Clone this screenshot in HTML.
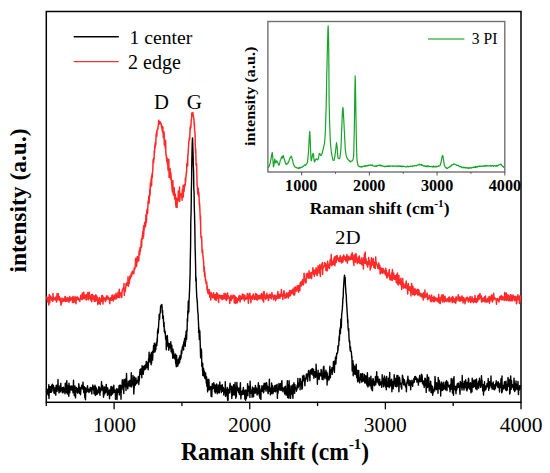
<!DOCTYPE html>
<html><head><meta charset="utf-8"><style>
html,body{margin:0;padding:0;background:#fff;}
svg{display:block;}
text{font-family:"Liberation Serif", serif;fill:#000;}
</style></head><body>
<svg width="550" height="473" viewBox="0 0 550 473">
<rect width="550" height="473" fill="#fff"/>
<rect x="46.3" y="11.5" width="474.7" height="390.8" fill="none" stroke="#000" stroke-width="1.5"/>
<line x1="114.11" y1="402.3" x2="114.11" y2="409.3" stroke="#000" stroke-width="1.3"/>
<line x1="249.74" y1="402.3" x2="249.74" y2="409.3" stroke="#000" stroke-width="1.3"/>
<line x1="385.37" y1="402.3" x2="385.37" y2="409.3" stroke="#000" stroke-width="1.3"/>
<line x1="521.00" y1="402.3" x2="521.00" y2="409.3" stroke="#000" stroke-width="1.3"/>
<line x1="46.30" y1="402.3" x2="46.30" y2="406" stroke="#000" stroke-width="1.3"/>
<line x1="181.93" y1="402.3" x2="181.93" y2="406" stroke="#000" stroke-width="1.3"/>
<line x1="317.56" y1="402.3" x2="317.56" y2="406" stroke="#000" stroke-width="1.3"/>
<line x1="453.19" y1="402.3" x2="453.19" y2="406" stroke="#000" stroke-width="1.3"/>
<text transform="translate(92.98,432.40) scale(1.0750,1.0250)" font-size="20" font-weight="normal">1000</text>
<text transform="translate(228.11,432.40) scale(1.0750,1.0250)" font-size="20" font-weight="normal">2000</text>
<text transform="translate(363.74,432.40) scale(1.0750,1.0250)" font-size="20" font-weight="normal">3000</text>
<text transform="translate(499.63,432.40) scale(1.0750,1.0250)" font-size="20" font-weight="normal">4000</text>
<text transform="translate(181.01,459.57) scale(0.9842,1.0263)" font-size="24" font-weight="bold">Raman shift (cm<tspan font-size="15" dy="-10">-1</tspan><tspan dy="10">)</tspan></text>
<text transform="translate(25.89,272.59) rotate(-90) scale(0.9791,0.9931)" font-size="24" font-weight="bold">intensity (a.u.)</text>
<text transform="translate(129.48,44.16) scale(0.9855,0.9704)" font-size="20" font-weight="normal">1 center</text>
<text transform="translate(128.10,68.56) scale(1.0000,1.0222)" font-size="20" font-weight="normal">2 edge</text>
<text transform="translate(153.98,108.90) scale(1.0340,1.0077)" font-size="20" font-weight="normal">D</text>
<text transform="translate(186.81,108.94) scale(1.0538,1.0593)" font-size="20" font-weight="normal">G</text>
<text transform="translate(334.95,244.20) scale(1.0462,0.9887)" font-size="20" font-weight="normal">2D</text>
<line x1="74.2" y1="36.8" x2="118.3" y2="36.8" stroke="#000" stroke-width="1.4" stroke-linecap="round"/>
<line x1="74.2" y1="61.6" x2="118.3" y2="61.6" stroke="#ff3030" stroke-width="1.4" stroke-linecap="round"/>
<polyline fill="none" stroke="#ff2a2a" stroke-width="1.5" stroke-linejoin="round" points="46.5,297.7 46.8,296.9 47.0,298.9 47.3,300.2 47.5,301.7 47.8,299.4 48.0,297.9 48.3,297.6 48.5,300.4 48.8,304.9 49.0,299.8 49.3,294.5 49.5,297.6 49.8,302.7 50.0,299.6 50.3,295.9 50.5,298.7 50.8,296.3 51.0,296.9 51.3,297.7 51.5,297.7 51.8,300.3 52.0,299.7 52.3,298.8 52.5,300.4 52.8,301.3 53.0,293.5 53.3,299.1 53.5,297.6 53.8,299.1 54.0,297.7 54.3,299.5 54.5,299.9 54.8,299.4 55.0,297.9 55.3,298.3 55.5,297.7 55.8,297.1 56.0,300.1 56.3,297.9 56.5,302.1 56.8,300.9 57.0,293.7 57.3,299.7 57.5,297.1 57.8,299.4 58.0,299.2 58.3,293.7 58.5,298.5 58.8,297.8 59.0,299.9 59.3,296.5 59.5,300.3 59.8,297.5 60.0,299.4 60.3,298.5 60.5,302.4 60.8,301.1 61.0,305.3 61.3,301.3 61.5,301.3 61.8,302.9 62.0,298.1 62.0,298.7 62.3,301.4 62.5,298.6 62.8,300.0 63.0,299.6 63.3,301.2 63.5,298.9 63.8,299.6 64.0,300.5 64.3,300.2 64.5,298.1 64.8,301.1 65.0,296.5 65.3,296.7 65.5,296.9 65.8,301.5 66.0,299.6 66.3,299.1 66.5,298.7 66.8,301.2 67.0,298.2 67.3,297.9 67.5,301.1 67.8,297.5 68.0,298.9 68.3,300.2 68.5,299.0 68.8,299.5 69.0,302.2 69.3,299.1 69.5,297.3 69.8,296.4 70.0,299.6 70.3,299.4 70.5,300.5 70.8,298.9 71.0,298.8 71.3,298.1 71.5,298.1 71.8,299.2 72.0,297.5 72.3,299.5 72.5,302.5 72.8,300.1 73.0,296.4 73.3,302.6 73.5,300.1 73.8,298.2 74.0,302.0 74.3,300.6 74.5,299.0 74.8,299.3 75.0,296.4 75.0,300.4 75.3,302.2 75.5,300.0 75.8,301.2 76.0,303.7 76.3,297.4 76.5,300.0 76.8,298.7 77.0,296.9 77.3,297.0 77.5,298.7 77.8,299.3 78.0,297.4 78.3,298.5 78.5,299.5 78.8,298.9 79.0,300.0 79.3,299.5 79.5,299.3 79.8,301.4 80.0,299.0 80.3,298.1 80.5,298.4 80.8,295.3 81.0,296.5 81.3,298.8 81.5,297.6 81.8,299.6 82.0,296.1 82.3,293.1 82.5,299.0 82.8,297.3 83.0,293.6 83.3,298.5 83.5,295.7 83.8,292.2 84.0,295.2 84.0,294.8 84.3,298.8 84.5,294.4 84.8,296.1 85.0,296.1 85.3,296.2 85.5,295.5 85.8,298.0 86.0,299.6 86.3,300.0 86.5,295.6 86.8,294.5 87.0,296.4 87.3,294.2 87.5,294.5 87.8,292.4 88.0,299.3 88.3,299.8 88.5,294.3 88.8,297.7 89.0,298.8 89.3,292.2 89.5,295.8 89.8,296.2 90.0,298.2 90.0,296.0 90.3,295.9 90.5,296.4 90.8,300.1 91.0,300.5 91.3,295.6 91.5,294.8 91.8,301.8 92.0,295.0 92.3,294.4 92.5,296.6 92.8,297.8 93.0,298.9 93.3,297.8 93.5,295.7 93.8,299.0 94.0,298.6 94.3,301.3 94.5,298.0 94.8,295.9 95.0,296.4 95.3,301.3 95.5,297.8 95.8,294.8 96.0,297.7 96.0,298.0 96.3,299.9 96.5,295.8 96.8,300.6 97.0,299.0 97.3,297.2 97.5,298.2 97.8,304.4 98.0,302.1 98.3,300.8 98.5,299.5 98.8,303.5 99.0,298.7 99.3,298.9 99.5,297.5 99.8,299.5 100.0,299.6 100.3,304.5 100.5,299.1 100.8,301.5 101.0,301.6 101.3,299.0 101.5,301.3 101.8,295.6 102.0,300.1 102.3,301.4 102.5,295.5 102.8,297.6 103.0,303.9 103.3,299.2 103.5,297.2 103.8,298.3 104.0,298.0 104.3,300.1 104.5,299.8 104.8,298.6 105.0,297.9 105.3,299.0 105.5,301.6 105.8,299.5 106.0,299.7 106.3,298.4 106.5,296.0 106.8,296.8 107.0,299.4 107.3,298.9 107.5,296.8 107.8,295.9 108.0,298.7 108.0,298.1 108.3,297.6 108.5,297.7 108.8,298.7 109.0,299.4 109.3,300.1 109.5,299.9 109.8,303.8 110.0,300.0 110.3,297.7 110.5,298.5 110.8,299.4 111.0,297.8 111.3,299.3 111.5,300.3 111.8,296.7 112.0,295.2 112.3,300.1 112.5,298.4 112.8,299.3 113.0,295.1 113.3,301.0 113.5,299.6 113.8,297.3 114.0,297.0 114.3,298.1 114.5,296.5 114.7,295.9 114.8,295.0 115.0,299.1 115.3,297.0 115.5,298.3 115.8,298.3 116.0,293.2 116.3,298.7 116.5,296.3 116.8,296.1 117.0,296.8 117.3,294.6 117.5,297.6 117.8,294.8 118.0,292.2 118.3,292.3 118.5,296.2 118.8,297.3 119.0,294.6 119.3,289.3 119.3,297.1 119.5,293.6 119.8,297.7 120.0,295.2 120.3,293.3 120.5,292.9 120.8,294.4 121.0,295.0 121.3,293.1 121.5,295.0 121.8,297.4 122.0,292.1 122.3,289.9 122.5,289.5 122.8,288.7 123.0,289.6 123.3,289.2 123.5,287.4 123.8,290.2 124.0,283.6 124.0,286.0 124.3,295.6 124.5,290.3 124.8,289.5 125.0,288.8 125.3,291.4 125.5,288.4 125.8,287.3 126.0,283.8 126.3,285.4 126.5,283.7 126.8,283.2 127.0,282.6 127.3,283.8 127.5,283.0 127.8,285.4 128.0,276.7 128.3,282.3 128.5,286.2 128.6,282.3 128.8,284.4 129.0,283.6 129.3,283.2 129.5,281.9 129.8,276.3 130.0,278.6 130.3,278.7 130.5,275.8 130.8,277.5 131.0,275.3 131.3,273.2 131.5,276.1 131.8,275.4 132.0,273.1 132.3,271.7 132.5,271.1 132.8,271.8 133.0,272.2 133.3,272.7 133.3,271.5 133.5,273.6 133.8,273.8 134.0,270.7 134.3,267.7 134.5,267.5 134.8,269.4 135.0,267.2 135.3,267.0 135.5,259.5 135.8,258.3 136.0,265.5 136.3,264.4 136.5,266.6 136.7,264.1 136.8,262.5 137.0,260.8 137.3,256.4 137.5,262.0 137.8,257.1 138.0,258.9 138.3,257.6 138.5,257.0 138.8,260.7 139.0,252.7 139.1,252.9 139.3,250.4 139.5,249.7 139.8,254.7 140.0,247.5 140.3,251.1 140.5,249.0 140.8,247.9 141.0,246.8 141.3,239.6 141.4,243.6 141.6,246.9 141.8,238.6 142.1,239.4 142.3,235.6 142.6,237.4 142.8,231.4 143.1,238.3 143.3,230.7 143.6,225.9 143.7,235.7 143.8,232.4 144.1,229.5 144.3,227.4 144.6,223.0 144.8,222.3 145.1,224.2 145.3,226.8 145.6,225.7 145.8,218.0 146.0,214.6 146.1,215.0 146.3,222.6 146.6,218.0 146.8,211.0 147.1,209.3 147.3,213.7 147.6,213.1 147.8,209.0 148.1,200.9 148.1,203.6 148.3,202.4 148.6,203.6 148.8,195.9 149.1,203.3 149.3,198.1 149.6,196.3 149.8,189.0 149.8,192.4 150.1,195.1 150.3,182.9 150.6,187.1 150.8,186.1 151.1,179.1 151.3,181.9 151.6,176.2 151.6,185.8 151.8,176.6 152.1,173.8 152.3,177.4 152.6,171.4 152.8,170.2 153.1,160.0 153.3,159.2 153.5,162.7 153.6,162.9 153.8,158.1 154.1,158.9 154.3,150.7 154.6,152.4 154.8,145.5 155.1,148.0 155.1,145.1 155.3,142.5 155.6,142.2 155.8,145.0 156.1,134.8 156.3,133.4 156.6,135.9 156.7,131.5 156.8,136.1 157.1,131.2 157.3,129.4 157.6,128.7 157.8,129.7 158.1,126.3 158.3,125.2 158.6,123.9 158.6,121.0 158.8,120.3 159.1,124.2 159.3,124.0 159.6,122.5 159.8,122.0 159.8,121.8 160.1,122.8 160.3,121.9 160.6,123.7 160.8,122.9 161.1,124.1 161.3,125.6 161.4,124.1 161.6,126.8 161.8,128.2 162.1,128.3 162.3,131.5 162.6,126.4 162.8,127.1 163.1,133.3 163.3,135.1 163.3,137.7 163.6,135.9 163.8,137.9 164.1,132.1 164.3,144.9 164.6,143.7 164.8,140.0 165.1,142.6 165.1,145.8 165.3,148.4 165.6,140.3 165.8,152.6 166.1,155.3 166.3,155.2 166.6,158.9 166.8,161.3 167.1,157.8 167.3,163.7 167.4,161.7 167.6,160.0 167.8,164.7 168.1,170.4 168.3,162.1 168.6,163.4 168.8,159.3 169.1,177.4 169.3,171.0 169.6,172.7 169.8,171.2 169.8,170.8 170.1,168.4 170.3,176.8 170.6,179.1 170.8,172.6 171.1,177.1 171.3,180.0 171.6,183.9 171.8,185.2 172.1,188.9 172.3,191.1 172.6,191.0 172.6,192.2 172.8,180.4 173.1,189.0 173.3,195.1 173.6,193.5 173.8,193.4 174.1,187.6 174.3,189.0 174.6,199.0 174.8,198.5 174.9,196.8 175.1,197.5 175.3,194.1 175.6,201.7 175.8,204.9 176.1,207.2 176.3,201.8 176.3,201.0 176.6,198.0 176.8,205.6 177.1,207.5 177.3,199.5 177.6,201.8 177.8,200.7 178.1,198.2 178.3,191.1 178.6,197.7 178.8,200.1 179.1,193.1 179.3,194.7 179.5,187.1 179.6,201.4 179.8,200.6 180.1,196.6 180.3,195.0 180.6,193.6 180.8,195.7 181.1,195.4 181.3,195.3 181.6,196.1 181.8,196.1 182.1,200.2 182.3,189.7 182.6,194.9 182.8,191.4 183.0,189.5 183.1,185.4 183.3,196.9 183.6,188.4 183.8,188.3 184.1,191.2 184.3,184.4 184.6,187.2 184.8,184.7 185.1,185.3 185.3,184.3 185.3,178.2 185.6,182.2 185.8,177.5 186.1,176.2 186.3,172.5 186.6,173.0 186.8,163.6 187.1,165.6 187.3,166.3 187.6,159.5 187.7,165.5 187.8,155.0 188.1,155.1 188.3,149.8 188.6,145.9 188.8,141.7 189.1,140.8 189.3,139.7 189.3,137.7 189.6,139.4 189.8,137.8 190.1,127.4 190.3,129.7 190.6,125.8 190.6,125.6 190.8,127.7 191.1,123.3 191.3,119.9 191.6,118.2 191.8,113.1 192.1,115.7 192.3,112.9 192.6,113.3 192.8,112.7 192.9,112.5 193.1,115.7 193.3,115.1 193.6,117.5 193.8,118.0 194.1,122.0 194.3,125.6 194.4,123.0 194.6,131.1 194.8,130.9 195.1,134.9 195.3,145.9 195.6,152.7 195.7,148.7 195.8,151.6 196.1,165.4 196.3,163.6 196.6,163.6 196.8,172.8 197.1,185.1 197.3,185.8 197.6,190.1 197.8,194.2 197.8,192.4 198.1,191.2 198.3,188.2 198.6,196.3 198.8,192.3 199.1,197.2 199.3,205.0 199.3,201.7 199.6,203.7 199.8,207.8 200.1,214.8 200.3,220.2 200.5,216.0 200.6,222.8 200.8,234.3 201.1,238.0 201.3,237.1 201.3,238.2 201.6,236.6 201.8,243.3 202.1,252.7 202.3,250.3 202.6,249.9 202.7,252.1 202.8,254.8 203.1,257.6 203.3,259.7 203.6,260.8 203.8,267.0 204.0,271.5 204.1,266.7 204.3,267.4 204.6,276.2 204.8,271.8 205.1,275.7 205.3,278.4 205.5,280.8 205.6,279.2 205.8,279.8 206.1,283.8 206.3,281.7 206.6,281.7 206.8,282.7 207.1,290.1 207.3,286.1 207.6,291.3 207.8,292.6 208.1,293.4 208.2,291.3 208.3,290.5 208.6,291.9 208.8,290.6 209.1,289.4 209.3,294.8 209.6,291.3 209.8,297.2 210.1,296.1 210.3,293.7 210.6,295.4 210.8,300.1 211.1,292.5 211.3,293.9 211.6,293.4 211.8,296.3 212.1,297.0 212.3,296.3 212.6,294.9 212.7,295.5 212.8,298.0 213.1,297.4 213.3,295.8 213.6,292.8 213.8,296.4 214.1,296.2 214.3,296.7 214.6,299.5 214.8,297.9 215.1,294.5 215.3,295.0 215.6,299.0 215.8,297.0 216.1,300.4 216.3,296.2 216.6,292.7 216.8,297.3 217.1,298.2 217.3,296.6 217.6,293.7 217.8,295.2 218.1,295.6 218.2,297.3 218.3,298.9 218.6,302.4 218.8,296.6 219.1,295.1 219.3,296.1 219.6,296.3 219.8,295.6 220.1,296.9 220.3,297.4 220.6,295.4 220.8,298.4 221.1,296.7 221.3,295.6 221.6,297.8 221.8,295.7 222.1,299.7 222.3,296.5 222.6,296.9 222.8,295.4 223.1,296.8 223.3,299.0 223.6,296.2 223.8,298.7 224.1,293.2 224.3,297.5 224.6,298.3 224.8,297.6 225.1,296.5 225.3,298.9 225.6,295.3 225.8,293.6 226.1,298.0 226.3,300.5 226.6,298.8 226.8,297.7 227.1,298.5 227.3,298.8 227.3,296.2 227.6,293.1 227.8,296.9 228.1,295.9 228.3,297.6 228.6,295.9 228.8,296.5 229.1,298.9 229.3,298.3 229.6,298.2 229.8,303.4 230.1,297.4 230.3,297.3 230.6,300.3 230.8,296.0 231.1,295.3 231.3,300.4 231.6,298.5 231.8,298.7 232.1,298.7 232.3,298.7 232.6,296.3 232.8,297.0 233.1,295.1 233.3,297.0 233.6,297.0 233.8,296.0 234.1,298.5 234.3,303.0 234.6,295.8 234.8,301.6 235.1,299.8 235.3,300.1 235.6,297.0 235.8,303.4 236.1,299.7 236.4,298.3 236.4,297.7 236.6,298.2 236.9,299.8 237.1,300.0 237.4,302.8 237.6,298.4 237.9,300.6 238.1,298.6 238.4,300.2 238.6,298.8 238.9,296.9 239.1,295.6 239.4,296.6 239.6,298.5 239.9,300.6 240.1,301.9 240.4,295.9 240.6,297.2 240.9,298.7 241.1,298.6 241.4,298.2 241.6,299.3 241.9,298.0 242.1,296.2 242.4,293.9 242.6,297.0 242.9,294.8 243.1,297.9 243.4,299.0 243.6,294.8 243.9,297.2 244.1,297.0 244.4,301.0 244.6,298.8 244.9,295.2 245.1,299.2 245.4,298.9 245.5,297.2 245.6,297.8 245.9,299.1 246.1,299.2 246.4,299.0 246.6,297.1 246.9,297.6 247.1,296.3 247.4,293.5 247.6,298.5 247.9,296.8 248.1,298.2 248.4,303.3 248.6,299.0 248.9,296.2 249.1,293.9 249.4,295.7 249.6,294.4 249.9,293.2 250.1,298.5 250.4,295.9 250.6,298.1 250.9,302.7 251.1,297.6 251.4,297.2 251.6,297.9 251.9,296.4 252.1,296.0 252.4,297.3 252.6,299.3 252.9,296.5 253.1,294.3 253.4,294.1 253.6,294.8 253.9,297.1 254.1,298.3 254.4,298.5 254.5,299.5 254.6,296.7 254.9,298.4 255.1,297.2 255.4,298.2 255.6,293.6 255.9,299.2 256.1,293.8 256.4,294.9 256.6,298.4 256.9,296.0 257.1,300.2 257.4,297.2 257.6,295.1 257.9,296.7 258.1,295.4 258.4,298.7 258.6,299.0 258.9,297.0 259.1,295.4 259.4,296.9 259.6,298.7 259.9,295.5 260.1,295.5 260.4,298.7 260.6,298.3 260.9,296.5 261.1,295.7 261.4,293.6 261.6,298.8 261.9,296.8 262.1,294.6 262.4,295.1 262.6,295.4 262.9,300.6 263.1,300.0 263.4,292.1 263.6,300.9 263.6,302.1 263.9,294.5 264.1,291.4 264.4,297.7 264.6,295.2 264.9,296.1 265.1,295.1 265.4,298.7 265.6,299.2 265.9,298.0 266.1,296.8 266.4,297.4 266.6,297.4 266.9,293.3 267.1,297.9 267.4,295.3 267.6,297.1 267.9,296.1 268.1,297.4 268.4,300.6 268.6,299.9 268.9,295.3 269.1,294.6 269.4,296.1 269.6,294.6 269.9,297.6 270.1,294.3 270.4,296.3 270.6,297.8 270.9,298.0 271.1,296.0 271.4,298.7 271.6,298.0 271.9,292.6 272.1,296.3 272.4,296.2 272.6,295.0 272.7,294.9 272.9,296.5 273.1,297.1 273.4,297.3 273.6,299.7 273.9,298.9 274.1,296.0 274.4,295.3 274.6,297.6 274.9,295.0 275.1,296.1 275.4,296.9 275.6,300.8 275.9,297.6 276.1,299.5 276.4,296.2 276.6,298.4 276.9,295.6 277.1,297.3 277.4,296.7 277.6,294.8 277.9,291.5 278.1,298.4 278.4,296.9 278.6,296.4 278.9,294.3 279.1,295.0 279.4,296.6 279.6,296.3 279.9,298.3 280.1,296.9 280.4,294.2 280.6,296.5 280.9,293.9 281.1,295.0 281.4,289.5 281.6,294.2 281.8,296.1 281.9,293.6 282.1,295.6 282.4,296.7 282.6,296.3 282.9,299.4 283.1,295.3 283.4,294.6 283.6,294.5 283.9,290.8 284.1,291.5 284.4,295.5 284.6,294.9 284.9,298.1 285.1,295.5 285.4,294.9 285.6,297.3 285.9,295.3 286.1,298.0 286.4,293.1 286.6,296.2 286.9,296.3 287.1,296.0 287.4,296.8 287.6,295.8 287.9,294.0 288.1,292.8 288.4,298.1 288.6,293.9 288.9,295.9 289.1,296.4 289.4,294.5 289.6,290.4 289.9,293.6 290.0,295.6 290.1,293.2 290.4,295.8 290.6,293.1 290.9,292.6 291.1,290.6 291.4,292.0 291.6,293.6 291.9,290.9 292.1,291.1 292.4,289.9 292.6,293.1 292.9,289.1 293.1,290.7 293.4,294.0 293.6,294.8 293.9,291.4 294.1,293.5 294.4,287.4 294.6,294.9 294.9,292.9 295.1,288.3 295.4,286.9 295.6,289.3 295.9,290.7 296.1,290.5 296.4,290.2 296.6,291.1 296.9,290.8 297.1,286.0 297.4,287.5 297.6,286.5 297.9,289.4 298.1,285.6 298.2,289.3 298.4,287.5 298.6,292.2 298.9,287.1 299.1,287.0 299.4,285.5 299.6,285.7 299.9,290.5 300.1,283.6 300.4,282.8 300.6,284.3 300.9,285.9 301.1,281.8 301.4,285.7 301.6,285.0 301.9,282.4 302.1,281.5 302.4,280.6 302.6,281.2 302.9,279.5 303.1,284.5 303.4,284.9 303.6,279.9 303.9,280.2 304.1,273.3 304.4,278.4 304.6,280.6 304.9,280.6 305.1,280.2 305.4,282.9 305.6,280.2 305.9,278.7 306.1,282.7 306.4,273.7 306.4,274.4 306.6,275.4 306.9,275.1 307.1,274.8 307.4,276.4 307.6,273.3 307.9,276.5 308.1,278.2 308.4,276.7 308.6,277.1 308.9,274.6 309.1,270.8 309.4,275.3 309.6,278.1 309.9,276.5 310.1,277.1 310.4,276.5 310.6,277.5 310.9,272.4 311.1,276.6 311.4,277.9 311.6,278.6 311.9,274.0 312.1,273.9 312.4,271.8 312.6,272.6 312.9,267.7 313.1,270.7 313.4,272.3 313.6,274.5 313.9,270.2 314.1,272.5 314.4,276.2 314.5,270.2 314.6,273.9 314.9,270.8 315.1,271.9 315.4,273.1 315.6,273.8 315.9,269.6 316.1,267.7 316.4,274.1 316.6,270.8 316.9,272.2 317.1,275.6 317.4,274.5 317.6,269.1 317.9,269.0 318.1,265.8 318.4,269.5 318.6,267.6 318.9,268.7 319.1,273.0 319.4,269.4 319.6,267.8 319.9,264.5 320.1,271.8 320.4,276.6 320.6,266.0 320.9,269.3 321.1,267.2 321.4,267.9 321.6,267.0 321.9,263.7 322.1,266.1 322.4,262.4 322.6,274.5 322.7,272.9 322.9,267.1 323.1,268.1 323.4,267.4 323.6,267.0 323.9,267.0 324.1,265.8 324.4,265.7 324.6,262.8 324.9,264.1 325.1,264.6 325.4,266.7 325.6,263.3 325.9,270.5 326.1,264.8 326.4,265.2 326.6,267.1 326.9,268.7 327.1,270.9 327.4,267.7 327.6,261.2 327.9,264.0 328.1,267.0 328.4,265.1 328.6,266.7 328.9,264.4 329.1,268.6 329.4,268.1 329.6,267.0 329.9,264.3 330.1,259.8 330.4,260.5 330.6,264.4 330.9,264.5 331.2,254.4 331.4,261.6 331.7,265.8 331.9,265.6 332.2,262.0 332.4,264.6 332.7,262.3 332.9,261.0 333.2,264.4 333.4,264.1 333.7,260.2 333.9,259.0 334.2,257.9 334.4,257.1 334.7,264.7 334.9,265.7 335.2,261.1 335.4,263.2 335.7,256.3 335.9,259.8 336.2,262.4 336.4,260.7 336.7,260.1 336.9,255.4 337.2,255.7 337.4,258.5 337.7,257.8 337.9,259.4 338.2,258.3 338.4,259.7 338.7,260.5 338.9,261.4 339.1,259.9 339.2,257.7 339.4,258.3 339.7,261.4 339.9,258.5 340.2,255.8 340.4,255.9 340.7,259.3 340.9,260.3 341.2,262.5 341.4,258.3 341.7,262.9 341.9,258.2 342.2,258.6 342.4,257.0 342.7,260.5 342.9,262.1 343.2,259.1 343.4,257.3 343.7,255.1 343.9,259.7 344.2,258.4 344.4,258.4 344.7,257.5 344.9,256.6 345.2,257.9 345.4,259.6 345.7,261.1 345.9,258.1 346.2,258.9 346.4,257.2 346.7,257.7 346.9,254.5 347.2,261.1 347.3,260.5 347.4,263.1 347.7,257.4 347.9,259.6 348.2,256.2 348.4,258.8 348.7,257.8 348.9,259.9 349.2,257.6 349.4,259.7 349.7,257.1 349.9,259.7 350.2,257.4 350.4,257.4 350.7,258.7 350.9,259.6 351.2,254.7 351.4,254.2 351.7,258.9 351.9,258.4 352.2,252.7 352.4,254.1 352.7,257.1 352.9,259.9 353.2,259.7 353.4,262.1 353.7,262.3 353.9,265.5 354.2,255.1 354.4,258.3 354.7,261.2 354.9,255.2 355.2,254.7 355.4,259.2 355.5,262.0 355.7,262.2 355.9,253.6 356.2,254.8 356.4,257.5 356.7,256.6 356.9,259.2 357.2,259.2 357.4,263.6 357.7,259.3 357.9,259.5 358.2,259.5 358.4,262.3 358.7,256.9 358.9,262.2 359.2,257.6 359.4,256.1 359.7,263.2 359.9,261.0 360.2,263.7 360.4,261.4 360.7,261.8 360.9,260.8 361.2,261.7 361.4,258.8 361.7,264.2 361.9,257.7 362.2,265.1 362.4,260.0 362.7,263.2 362.9,261.1 363.2,262.0 363.4,269.1 363.6,260.9 363.7,257.7 363.9,260.9 364.2,262.1 364.4,254.1 364.7,263.0 364.9,263.2 365.2,252.1 365.4,260.3 365.7,263.4 365.9,258.4 366.2,260.8 366.4,261.2 366.7,263.9 366.9,265.1 367.2,262.2 367.4,261.9 367.7,267.1 367.9,263.1 368.2,261.2 368.4,264.7 368.7,257.5 368.9,262.0 369.2,260.0 369.4,260.4 369.7,262.6 369.9,263.0 370.2,270.0 370.4,265.3 370.7,264.4 370.9,268.0 371.2,265.8 371.4,257.7 371.7,263.8 371.8,265.3 371.9,262.1 372.2,264.4 372.4,262.7 372.7,265.1 372.9,259.5 373.2,258.5 373.4,262.5 373.7,264.6 373.9,267.6 374.2,263.4 374.4,262.2 374.7,266.9 374.9,264.6 375.2,268.6 375.4,264.5 375.7,257.1 375.9,260.9 376.2,263.0 376.4,262.6 376.7,264.3 376.9,264.8 377.2,265.7 377.4,265.5 377.7,268.2 377.9,268.3 378.2,268.0 378.4,268.4 378.7,263.0 378.9,264.0 379.2,266.4 379.4,269.3 379.7,265.2 379.9,268.1 380.0,269.5 380.2,273.9 380.4,269.5 380.7,267.6 380.9,272.0 381.2,270.4 381.4,269.4 381.7,272.9 381.9,268.5 382.2,271.5 382.4,271.1 382.7,273.2 382.9,268.6 383.2,268.5 383.4,270.6 383.7,271.4 383.9,272.0 384.2,271.0 384.4,272.9 384.7,273.4 384.9,272.3 385.2,269.7 385.4,274.9 385.7,268.2 385.9,272.3 386.2,274.7 386.4,270.6 386.7,276.2 386.9,277.9 387.2,277.4 387.4,275.3 387.7,277.2 387.9,273.1 388.2,275.8 388.2,275.7 388.4,274.6 388.7,274.7 388.9,274.1 389.2,269.5 389.4,275.1 389.7,275.3 389.9,279.5 390.2,276.5 390.4,275.3 390.7,280.0 390.9,276.8 391.2,275.7 391.4,275.4 391.7,272.8 391.9,276.6 392.2,280.4 392.4,269.4 392.7,274.6 392.9,278.9 393.2,278.1 393.4,278.8 393.7,273.1 393.9,276.3 394.2,279.2 394.4,279.2 394.7,279.1 394.9,275.9 395.2,279.3 395.4,275.6 395.7,276.1 395.9,275.9 396.2,282.4 396.4,277.8 396.4,279.0 396.7,274.5 396.9,282.9 397.2,281.1 397.4,272.9 397.7,277.0 397.9,284.4 398.2,278.0 398.4,285.0 398.7,279.9 398.9,275.5 399.2,283.3 399.4,282.4 399.7,282.7 399.9,280.1 400.2,281.3 400.4,284.5 400.7,280.6 400.9,278.3 401.2,285.0 401.4,281.9 401.7,289.5 401.9,282.6 402.2,283.0 402.4,283.3 402.7,278.5 402.9,286.7 403.2,282.8 403.4,284.2 403.7,288.2 403.9,285.7 404.2,287.4 404.4,286.5 404.5,286.9 404.7,285.4 404.9,287.2 405.2,284.1 405.4,285.6 405.7,283.5 405.9,288.2 406.2,281.0 406.4,286.3 406.7,286.7 406.9,286.7 407.2,285.8 407.4,289.3 407.7,293.9 407.9,285.7 408.2,283.4 408.4,285.3 408.7,285.9 408.9,287.7 409.2,288.1 409.4,290.6 409.7,287.7 409.9,288.8 410.2,289.2 410.4,286.7 410.7,287.6 410.9,296.0 411.2,288.7 411.4,287.3 411.7,283.4 411.9,291.5 412.2,287.9 412.4,288.6 412.7,294.5 412.7,292.6 412.9,286.3 413.2,289.4 413.4,291.8 413.7,292.3 413.9,289.2 414.2,294.8 414.4,295.3 414.7,289.9 414.9,288.7 415.2,289.3 415.4,293.9 415.7,294.4 415.9,292.5 416.2,290.7 416.4,291.7 416.7,293.2 416.9,290.0 417.2,289.4 417.4,292.2 417.7,295.0 417.9,293.0 418.2,292.8 418.4,289.6 418.7,295.0 418.9,290.0 419.2,293.5 419.4,293.2 419.7,294.3 419.9,292.9 420.2,296.1 420.4,294.8 420.7,293.5 420.9,295.9 420.9,295.1 421.2,294.4 421.4,294.2 421.7,297.0 421.9,293.9 422.2,294.6 422.4,295.0 422.7,296.4 422.9,295.5 423.2,299.9 423.4,292.9 423.7,297.2 423.9,295.8 424.2,297.7 424.4,292.4 424.7,297.7 424.9,290.0 425.2,296.9 425.4,297.0 425.7,296.6 426.0,295.3 426.2,295.2 426.5,296.8 426.7,295.2 427.0,293.0 427.2,293.7 427.5,299.3 427.7,299.7 428.0,299.2 428.2,298.1 428.5,298.4 428.7,297.9 429.0,297.8 429.1,295.3 429.2,296.2 429.5,295.5 429.7,298.2 430.0,296.8 430.2,298.8 430.5,301.0 430.7,298.2 431.0,300.8 431.2,301.8 431.5,295.0 431.7,296.0 432.0,299.5 432.2,297.5 432.5,299.8 432.7,300.7 433.0,297.9 433.2,301.7 433.5,301.6 433.7,299.9 434.0,296.2 434.2,297.7 434.5,297.5 434.7,301.5 435.0,298.2 435.2,297.9 435.5,299.5 435.7,300.2 436.0,298.0 436.2,299.5 436.5,299.2 436.7,300.5 437.0,301.0 437.2,300.4 437.3,298.8 437.5,300.4 437.7,298.2 438.0,301.8 438.2,299.8 438.5,299.2 438.7,294.4 439.0,302.7 439.2,300.6 439.5,300.0 439.7,298.3 440.0,299.5 440.2,303.6 440.5,297.4 440.7,300.4 441.0,300.1 441.2,299.2 441.5,299.2 441.7,295.1 442.0,299.9 442.2,296.3 442.5,301.9 442.7,300.0 443.0,296.8 443.2,294.7 443.5,298.8 443.7,299.8 444.0,297.2 444.2,302.1 444.5,299.3 444.7,298.2 445.0,296.2 445.2,298.3 445.5,298.7 445.7,300.8 446.0,301.2 446.2,299.4 446.5,300.3 446.7,301.6 447.0,300.3 447.2,298.8 447.5,300.7 447.7,299.1 448.0,300.5 448.2,299.3 448.5,297.5 448.7,301.7 449.0,298.8 449.2,300.3 449.5,296.9 449.7,301.0 450.0,301.8 450.2,299.3 450.5,299.4 450.7,299.2 451.0,299.1 451.2,300.5 451.5,297.9 451.7,297.5 452.0,299.2 452.2,302.7 452.5,298.3 452.7,296.6 453.0,297.1 453.2,299.4 453.5,301.7 453.7,298.3 454.0,300.9 454.2,300.6 454.5,302.3 454.7,300.0 455.0,301.3 455.2,300.1 455.5,297.9 455.7,303.2 456.0,296.9 456.2,296.8 456.5,300.9 456.7,299.3 457.0,298.3 457.2,298.9 457.5,299.8 457.7,297.9 458.0,297.7 458.2,294.7 458.5,297.3 458.7,297.2 459.0,300.7 459.2,299.1 459.5,299.8 459.7,297.0 460.0,301.2 460.2,297.1 460.5,300.9 460.7,300.4 461.0,298.3 461.2,297.9 461.5,300.5 461.7,297.9 462.0,295.9 462.2,299.2 462.5,297.1 462.7,298.7 463.0,302.9 463.2,298.6 463.5,301.1 463.7,297.4 464.0,299.1 464.2,298.9 464.5,299.1 464.7,300.7 465.0,303.7 465.2,299.6 465.5,301.6 465.7,300.0 466.0,300.4 466.2,297.9 466.5,297.5 466.7,298.6 467.0,297.8 467.2,299.4 467.5,297.2 467.7,298.8 468.0,299.3 468.2,301.8 468.5,302.0 468.7,299.9 469.0,298.3 469.2,299.9 469.5,300.7 469.7,298.8 470.0,297.9 470.2,296.4 470.5,299.4 470.7,302.6 471.0,298.8 471.2,299.8 471.5,300.8 471.7,300.8 471.8,301.6 472.0,296.8 472.2,299.6 472.5,300.5 472.7,299.6 473.0,301.9 473.2,298.7 473.5,301.3 473.7,302.7 474.0,299.1 474.2,299.4 474.5,299.1 474.7,301.4 475.0,295.6 475.2,297.2 475.5,299.0 475.7,301.4 476.0,302.2 476.2,298.7 476.5,302.6 476.7,300.1 477.0,298.4 477.2,299.9 477.5,301.4 477.7,298.3 478.0,295.7 478.2,297.1 478.5,298.4 478.7,299.7 479.0,294.7 479.2,298.9 479.5,296.3 479.7,298.7 480.0,293.5 480.2,297.7 480.5,296.2 480.7,297.1 481.0,296.2 481.2,295.8 481.5,302.0 481.7,301.3 482.0,300.1 482.2,298.3 482.5,301.5 482.7,298.1 483.0,299.3 483.2,300.4 483.5,298.8 483.7,301.2 484.0,297.7 484.2,298.2 484.5,299.0 484.7,296.7 485.0,296.7 485.2,302.1 485.5,296.1 485.7,301.3 486.0,299.8 486.2,301.7 486.5,301.1 486.7,300.1 487.0,302.1 487.2,299.0 487.5,298.7 487.7,301.0 488.0,298.0 488.2,301.5 488.5,300.5 488.7,298.8 489.0,297.5 489.2,296.4 489.5,303.2 489.7,297.0 490.0,297.0 490.2,300.7 490.5,299.5 490.7,298.4 491.0,298.1 491.2,297.5 491.5,295.0 491.7,297.7 492.0,300.7 492.2,301.6 492.5,302.0 492.7,299.5 493.0,294.9 493.2,299.7 493.5,298.4 493.7,293.2 494.0,299.8 494.2,297.8 494.5,297.4 494.7,298.2 495.0,298.1 495.2,298.5 495.5,298.5 495.7,298.7 496.0,300.0 496.2,299.9 496.5,304.3 496.7,300.5 497.0,298.8 497.2,298.6 497.5,300.6 497.7,299.8 498.0,299.8 498.2,299.0 498.5,299.3 498.7,300.8 499.0,302.0 499.2,299.7 499.5,299.2 499.7,296.8 500.0,296.6 500.0,299.0 500.2,298.8 500.5,298.9 500.7,297.1 501.0,299.6 501.2,295.5 501.5,296.8 501.7,297.9 502.0,300.0 502.2,296.8 502.5,296.5 502.7,298.7 503.0,297.5 503.2,299.1 503.5,297.9 503.7,297.9 504.0,297.1 504.2,300.6 504.5,297.0 504.7,292.5 505.0,299.8 505.2,297.1 505.5,298.0 505.7,299.0 506.0,299.9 506.2,293.0 506.5,296.7 506.7,300.5 507.0,294.8 507.2,299.8 507.5,297.1 507.7,296.1 508.0,297.3 508.2,295.1 508.5,298.9 508.7,300.7 509.0,296.0 509.2,297.7 509.5,300.5 509.7,299.0 510.0,297.2 510.2,300.7 510.5,294.8 510.7,297.6 511.0,298.1 511.2,296.7 511.5,300.8 511.7,295.3 512.0,298.1 512.2,296.8 512.5,300.8 512.7,300.5 513.0,295.0 513.2,296.9 513.5,298.8 513.7,297.0 514.0,297.1 514.2,298.8 514.5,296.4 514.7,300.7 515.0,297.7 515.2,296.7 515.5,296.3 515.7,297.8 516.0,300.4 516.2,299.6 516.5,303.8 516.7,303.5 517.0,299.9 517.2,296.4 517.5,297.2 517.7,297.8 518.0,294.7 518.2,299.5 518.5,296.7 518.7,298.4 519.0,297.7 519.2,300.0 519.5,303.4 519.7,295.9 520.0,297.5 520.2,301.2 520.5,295.4"/>
<polyline fill="none" stroke="#000" stroke-width="1.4" stroke-linejoin="round" points="46.5,389.4 46.8,394.2 47.0,394.3 47.3,389.3 47.5,390.6 47.8,390.1 48.0,393.3 48.3,391.3 48.5,395.7 48.8,384.7 49.0,398.6 49.3,389.0 49.5,390.8 49.8,387.8 50.0,386.4 50.3,392.3 50.5,390.3 50.8,387.1 51.0,387.1 51.3,392.3 51.5,385.9 51.8,385.1 52.0,391.1 52.3,388.1 52.5,384.2 52.8,386.9 53.0,387.7 53.3,385.7 53.5,385.6 53.8,390.6 54.0,393.1 54.3,389.8 54.5,388.0 54.8,391.2 55.0,393.6 55.3,388.0 55.5,391.8 55.8,395.3 56.0,386.9 56.3,385.2 56.5,388.1 56.8,388.2 57.0,391.4 57.3,385.1 57.5,387.6 57.8,388.2 58.0,379.4 58.3,389.1 58.5,390.2 58.8,386.9 59.0,392.9 59.3,391.5 59.5,392.1 59.8,391.0 60.0,392.1 60.0,385.6 60.3,391.6 60.5,390.9 60.8,383.2 61.0,390.2 61.3,388.1 61.5,390.6 61.8,388.0 62.0,390.3 62.3,392.4 62.5,387.7 62.8,392.9 63.0,389.1 63.3,392.0 63.5,387.1 63.8,391.9 64.0,390.5 64.3,388.6 64.5,391.1 64.8,392.0 65.0,393.7 65.3,383.1 65.5,390.2 65.8,390.3 66.0,387.8 66.3,384.8 66.5,392.4 66.8,380.6 67.0,391.3 67.3,393.9 67.5,385.2 67.8,388.3 68.0,386.0 68.3,390.5 68.5,394.0 68.8,396.2 69.0,383.3 69.3,387.0 69.5,390.2 69.8,392.8 70.0,389.0 70.3,386.3 70.5,389.9 70.8,389.1 71.0,387.8 71.3,386.0 71.5,389.6 71.8,390.0 72.0,388.9 72.3,389.8 72.5,386.2 72.8,388.7 73.0,392.7 73.3,388.9 73.5,380.1 73.8,392.7 74.0,389.6 74.3,395.6 74.5,389.1 74.8,388.3 75.0,385.9 75.3,394.7 75.5,397.9 75.8,388.4 76.0,388.0 76.3,391.7 76.5,387.4 76.8,388.7 77.0,388.3 77.3,390.1 77.5,393.1 77.8,389.4 78.0,392.2 78.3,388.5 78.5,391.8 78.8,383.7 79.0,385.8 79.3,393.2 79.5,387.2 79.8,390.9 80.0,391.7 80.0,393.8 80.3,392.4 80.5,394.7 80.8,390.9 81.0,387.3 81.3,387.5 81.5,387.5 81.8,385.2 82.0,386.5 82.3,388.9 82.5,388.8 82.8,387.0 83.0,382.1 83.3,387.8 83.5,388.6 83.8,392.7 84.0,391.4 84.3,386.7 84.5,388.4 84.8,397.7 85.0,393.8 85.3,396.5 85.5,399.8 85.8,387.7 86.0,389.7 86.3,392.2 86.5,391.5 86.8,391.9 87.0,390.1 87.3,391.0 87.5,385.6 87.8,389.9 88.0,388.4 88.3,391.1 88.5,389.4 88.8,391.9 89.0,392.6 89.3,391.1 89.5,390.8 89.8,389.7 90.0,388.2 90.3,387.7 90.5,387.4 90.8,391.1 91.0,390.0 91.3,391.8 91.5,387.8 91.8,394.0 92.0,388.0 92.3,387.6 92.5,388.4 92.8,385.0 93.0,389.6 93.3,386.9 93.5,386.8 93.8,388.2 94.0,393.7 94.3,389.5 94.5,386.3 94.8,390.3 95.0,385.3 95.3,395.5 95.5,386.5 95.8,393.5 96.0,392.4 96.3,387.9 96.5,394.0 96.8,394.6 97.0,393.2 97.3,392.3 97.5,393.7 97.8,390.1 98.0,390.5 98.3,388.6 98.5,391.9 98.8,386.8 99.0,392.7 99.3,389.6 99.5,387.3 99.8,390.9 100.0,395.2 100.0,393.0 100.3,388.5 100.5,391.9 100.8,388.9 101.0,388.8 101.3,389.3 101.5,381.6 101.8,390.1 102.0,386.1 102.3,387.6 102.5,385.5 102.8,386.3 103.0,387.5 103.3,393.3 103.5,397.2 103.8,392.1 104.0,395.2 104.3,392.3 104.5,386.9 104.8,392.4 105.0,393.5 105.3,390.1 105.5,390.5 105.8,392.2 106.0,386.6 106.3,384.4 106.5,389.4 106.8,389.6 107.0,387.6 107.3,393.3 107.5,395.2 107.8,388.0 108.0,391.3 108.3,392.2 108.5,391.9 108.8,394.2 109.0,390.5 109.3,394.2 109.5,398.8 109.8,395.1 110.0,389.4 110.3,392.8 110.5,394.1 110.8,391.8 111.0,386.4 111.3,395.5 111.5,386.8 111.8,392.6 112.0,391.0 112.3,387.3 112.5,394.0 112.8,391.4 113.0,387.5 113.3,392.7 113.5,389.1 113.8,385.2 114.0,388.6 114.0,390.9 114.3,392.4 114.5,390.7 114.8,390.2 115.0,391.9 115.3,390.1 115.5,399.3 115.8,391.6 116.0,393.3 116.3,393.8 116.5,388.9 116.8,388.8 117.0,399.6 117.3,392.0 117.5,389.6 117.8,391.9 118.0,389.1 118.3,392.3 118.5,389.0 118.8,391.8 119.0,385.8 119.3,395.0 119.5,388.6 119.8,385.3 120.0,387.4 120.3,386.9 120.5,389.0 120.5,385.1 120.8,392.5 121.0,399.2 121.3,386.2 121.5,389.7 121.8,387.1 122.0,387.3 122.3,379.8 122.5,380.8 122.8,386.7 123.0,384.9 123.3,390.3 123.5,383.1 123.5,386.2 123.8,393.5 124.0,379.5 124.3,380.9 124.5,383.8 124.8,383.8 125.0,386.5 125.3,384.9 125.5,378.9 125.8,383.4 126.0,390.5 126.3,385.8 126.5,373.4 126.8,382.3 127.0,380.7 127.3,386.2 127.5,383.9 127.8,388.9 128.0,385.7 128.3,386.0 128.5,383.5 128.8,381.1 129.0,383.0 129.3,385.4 129.5,382.9 129.8,380.4 130.0,386.7 130.3,384.4 130.4,384.1 130.5,382.0 130.8,381.2 131.0,382.6 131.3,372.6 131.5,386.9 131.8,385.1 132.0,380.9 132.3,384.9 132.5,382.5 132.8,382.7 133.0,375.5 133.3,382.8 133.5,384.3 133.8,394.0 134.0,389.1 134.3,387.3 134.3,380.0 134.5,376.9 134.8,384.9 135.0,382.4 135.3,385.3 135.5,382.3 135.8,383.5 136.0,378.0 136.3,383.8 136.5,380.7 136.8,382.8 137.0,383.2 137.3,381.0 137.5,382.1 137.8,380.0 138.0,381.2 138.0,382.0 138.3,376.8 138.5,376.5 138.8,384.6 139.0,378.0 139.3,380.7 139.5,376.9 139.8,372.6 140.0,369.6 140.3,372.9 140.5,373.3 140.8,374.4 141.0,368.6 141.3,371.5 141.6,372.9 141.8,377.7 142.1,365.8 142.3,373.8 142.6,370.3 142.8,372.2 143.1,366.5 143.1,370.2 143.3,374.2 143.6,369.4 143.8,369.0 144.1,369.2 144.3,366.0 144.6,369.7 144.8,366.9 145.1,365.2 145.3,366.2 145.6,364.6 145.8,369.0 146.1,364.0 146.3,361.5 146.6,367.3 146.8,366.9 147.1,367.5 147.3,367.3 147.6,363.0 147.8,362.2 148.1,361.9 148.2,369.8 148.3,363.6 148.6,358.7 148.8,362.8 149.1,352.2 149.3,361.8 149.6,356.8 149.8,356.0 150.1,360.2 150.3,359.5 150.6,354.5 150.8,362.4 151.1,364.7 151.3,352.8 151.6,363.0 151.8,354.6 152.0,354.3 152.1,356.1 152.3,351.8 152.6,360.1 152.8,355.6 153.1,350.5 153.3,351.5 153.6,345.4 153.8,347.6 154.1,352.2 154.3,343.2 154.5,346.9 154.6,350.0 154.8,351.9 155.1,351.8 155.3,346.3 155.6,344.3 155.8,349.7 156.1,344.3 156.3,342.6 156.6,345.8 156.8,345.7 157.1,339.5 157.1,338.8 157.3,342.0 157.6,330.4 157.8,333.4 158.1,328.2 158.3,332.8 158.6,325.6 158.8,322.3 159.1,319.0 159.1,314.5 159.3,319.2 159.6,319.3 159.8,313.6 160.1,313.5 160.3,312.2 160.6,306.0 160.8,307.3 161.1,306.4 161.3,304.9 161.4,305.0 161.6,305.7 161.8,304.4 162.1,307.6 162.3,312.7 162.6,310.5 162.8,318.6 163.1,317.7 163.3,315.9 163.6,323.1 163.7,323.1 163.8,326.7 164.1,322.4 164.3,331.4 164.6,329.0 164.8,333.0 165.1,331.4 165.3,332.7 165.6,339.1 165.8,339.3 166.0,337.6 166.1,336.4 166.3,349.8 166.6,344.1 166.8,341.4 167.1,344.4 167.3,335.5 167.6,340.3 167.8,342.2 168.1,346.6 168.3,346.8 168.6,343.5 168.8,350.2 169.1,347.7 169.3,344.5 169.5,347.5 169.6,343.6 169.8,344.3 170.1,346.0 170.3,344.7 170.6,348.2 170.8,341.8 171.1,351.7 171.3,346.0 171.6,349.8 171.8,345.3 172.1,352.3 172.3,354.0 172.6,354.6 172.8,358.2 173.0,349.1 173.1,351.3 173.3,353.0 173.6,351.7 173.8,357.6 174.1,355.1 174.3,356.7 174.6,358.7 174.8,355.6 175.1,357.5 175.3,354.0 175.6,362.4 175.8,363.6 176.1,364.5 176.3,366.7 176.6,355.2 176.8,360.7 177.1,364.7 177.3,359.7 177.6,361.6 177.7,366.2 177.8,365.6 178.1,364.5 178.3,361.1 178.6,359.2 178.8,363.5 179.1,357.7 179.3,360.1 179.6,362.7 179.8,356.9 180.0,355.5 180.1,357.8 180.3,359.7 180.6,358.8 180.8,357.7 181.1,357.6 181.3,350.6 181.6,351.7 181.8,353.7 182.1,349.0 182.3,347.5 182.6,346.3 182.8,346.6 183.1,348.0 183.3,344.2 183.5,345.8 183.6,350.1 183.8,341.8 184.1,345.6 184.3,342.6 184.6,338.5 184.8,339.9 185.1,338.4 185.3,346.2 185.6,335.2 185.8,341.6 185.8,340.5 186.1,331.3 186.3,338.2 186.6,339.2 186.8,330.1 187.1,331.3 187.3,318.6 187.6,321.5 187.8,310.9 188.1,314.0 188.1,308.8 188.3,301.1 188.6,308.6 188.8,312.1 189.1,299.3 189.3,297.3 189.3,295.8 189.6,288.6 189.8,282.0 190.1,274.2 190.3,258.1 190.3,260.2 190.6,245.3 190.8,221.4 191.1,211.9 191.3,197.9 191.3,191.7 191.6,180.3 191.8,162.0 192.1,147.8 192.3,141.3 192.5,138.0 192.6,138.3 192.8,145.0 193.1,154.4 193.3,164.9 193.6,171.7 193.6,172.6 193.8,188.3 194.1,193.3 194.3,207.2 194.6,216.8 194.6,219.4 194.8,225.1 195.1,247.8 195.3,252.9 195.5,262.5 195.6,265.5 195.8,281.0 196.1,277.4 196.3,286.9 196.3,286.2 196.6,293.9 196.8,297.6 197.1,299.0 197.1,301.4 197.3,301.1 197.6,309.2 197.8,311.8 198.1,314.0 198.3,319.5 198.6,324.8 198.6,332.5 198.8,327.2 199.1,332.3 199.3,339.6 199.6,331.8 199.8,330.8 200.1,339.2 200.3,346.5 200.6,357.7 200.8,352.9 200.9,356.7 201.1,353.4 201.3,348.9 201.6,352.6 201.8,366.3 202.1,365.2 202.3,363.1 202.6,371.9 202.7,363.3 202.8,375.6 203.1,374.1 203.3,368.0 203.6,368.3 203.8,375.5 204.1,370.7 204.3,376.8 204.4,371.3 204.6,378.1 204.8,377.0 205.1,376.2 205.3,375.0 205.5,378.9 205.6,372.9 205.8,378.1 206.1,376.9 206.3,383.3 206.6,376.9 206.8,386.2 207.1,381.0 207.3,379.4 207.6,391.9 207.8,388.2 208.1,382.8 208.3,380.4 208.6,383.5 208.8,379.3 209.1,383.6 209.1,390.0 209.3,388.6 209.6,387.7 209.8,387.7 210.1,387.0 210.3,389.4 210.6,389.4 210.8,386.5 210.9,389.5 211.1,396.2 211.3,391.3 211.6,387.9 211.8,396.8 212.1,387.5 212.3,383.6 212.6,389.0 212.8,384.6 213.1,385.8 213.3,388.2 213.6,387.4 213.8,382.6 214.1,385.9 214.3,385.4 214.6,391.6 214.8,385.0 215.1,385.0 215.3,393.0 215.6,386.6 215.8,391.3 216.1,391.7 216.3,388.0 216.6,384.0 216.8,389.3 217.1,389.7 217.3,393.8 217.6,387.9 217.8,391.8 218.1,391.9 218.2,385.0 218.3,392.5 218.6,388.6 218.8,385.4 219.1,385.7 219.3,392.8 219.6,390.3 219.8,381.9 220.1,388.9 220.3,389.2 220.6,388.7 220.8,387.9 221.1,385.5 221.3,392.6 221.6,387.4 221.8,388.9 222.1,388.4 222.3,384.6 222.6,391.2 222.8,390.3 223.1,387.8 223.3,387.5 223.6,388.4 223.8,395.1 224.1,392.4 224.3,392.7 224.6,389.3 224.8,391.2 225.1,392.6 225.3,381.6 225.6,396.4 225.8,390.0 226.1,389.3 226.3,395.1 226.6,393.0 226.8,392.6 227.1,389.7 227.3,387.4 227.3,392.6 227.6,400.2 227.8,389.8 228.1,400.3 228.3,389.3 228.6,390.8 228.8,393.4 229.1,391.2 229.3,392.7 229.6,387.9 229.8,385.8 230.1,383.1 230.3,385.4 230.6,386.8 230.8,386.4 231.1,392.9 231.3,388.4 231.6,386.2 231.8,398.6 232.1,388.9 232.3,387.5 232.6,395.6 232.8,395.2 233.1,388.7 233.3,386.6 233.6,384.6 233.8,394.3 234.1,389.5 234.3,389.2 234.6,392.2 234.8,395.1 235.1,382.5 235.3,389.9 235.6,387.4 235.8,398.2 236.1,396.8 236.4,396.3 236.4,389.6 236.6,391.5 236.9,382.4 237.1,390.3 237.4,386.8 237.6,387.5 237.9,388.5 238.1,389.0 238.4,391.9 238.6,392.5 238.9,390.7 239.1,388.2 239.4,394.1 239.6,390.9 239.9,394.6 240.1,388.2 240.4,382.8 240.6,390.7 240.9,398.9 241.1,394.3 241.4,391.9 241.6,395.1 241.9,393.1 242.1,394.4 242.4,390.5 242.6,392.5 242.9,394.0 243.1,389.9 243.4,387.4 243.6,390.7 243.9,394.3 244.1,392.5 244.4,393.3 244.6,393.0 244.9,399.1 245.1,390.3 245.4,397.4 245.6,400.3 245.9,389.9 246.1,391.7 246.4,398.5 246.6,395.0 246.9,391.9 247.1,392.5 247.4,391.6 247.6,383.6 247.9,395.7 248.1,389.9 248.4,386.1 248.6,391.3 248.9,386.4 249.1,388.0 249.4,391.0 249.6,388.0 249.9,397.4 250.1,381.1 250.4,389.6 250.6,391.4 250.9,393.4 251.1,392.6 251.4,391.4 251.6,391.2 251.9,389.6 252.1,397.3 252.4,387.0 252.6,391.1 252.9,389.1 253.1,392.7 253.4,389.5 253.6,396.8 253.9,388.0 254.1,390.1 254.4,389.6 254.5,391.3 254.6,391.1 254.9,390.9 255.1,393.3 255.4,385.4 255.6,391.0 255.9,387.2 256.1,392.7 256.4,388.1 256.6,389.0 256.9,391.1 257.1,395.0 257.4,391.0 257.6,390.2 257.9,393.7 258.1,386.3 258.4,382.8 258.6,387.8 258.9,388.3 259.1,392.2 259.4,396.1 259.6,385.8 259.9,398.2 260.1,394.8 260.4,393.4 260.6,391.0 260.9,399.4 261.1,390.5 261.4,388.6 261.6,390.8 261.9,385.6 262.1,391.2 262.4,389.0 262.6,390.5 262.9,390.3 263.1,386.8 263.4,392.7 263.6,385.3 263.9,391.9 264.1,383.3 264.4,388.7 264.6,386.6 264.9,389.1 265.1,386.9 265.4,383.2 265.6,387.4 265.9,390.4 266.1,391.1 266.4,384.3 266.6,382.7 266.9,385.5 267.1,388.0 267.4,385.9 267.6,387.2 267.9,391.8 268.1,393.6 268.4,391.6 268.6,386.7 268.9,389.9 269.1,388.4 269.4,379.1 269.6,391.3 269.9,388.8 270.1,387.6 270.4,394.9 270.6,392.3 270.9,391.3 271.1,392.4 271.4,393.6 271.6,383.0 271.9,387.1 272.1,391.8 272.4,385.5 272.6,388.0 272.7,390.2 272.9,393.7 273.1,392.8 273.4,391.7 273.6,388.1 273.9,390.8 274.1,388.4 274.4,386.2 274.6,391.2 274.9,388.5 275.1,385.4 275.4,391.9 275.6,387.4 275.9,391.0 276.1,385.1 276.4,389.1 276.6,385.7 276.9,386.0 277.1,384.4 277.4,398.4 277.6,388.9 277.9,390.7 278.1,393.0 278.4,388.4 278.6,389.2 278.9,383.5 279.1,388.7 279.4,385.9 279.6,389.6 279.9,390.1 280.1,385.4 280.4,383.7 280.6,385.5 280.9,390.1 281.1,390.6 281.4,389.3 281.6,381.7 281.9,380.6 282.1,386.9 282.4,387.9 282.6,388.7 282.9,391.7 283.1,389.7 283.4,388.3 283.6,388.2 283.9,389.4 284.1,389.4 284.4,387.3 284.6,394.0 284.9,387.2 285.1,389.8 285.4,386.3 285.6,390.0 285.9,392.5 286.1,395.3 286.4,391.1 286.6,392.8 286.9,391.1 287.1,385.9 287.4,380.7 287.6,397.6 287.9,393.4 288.1,390.5 288.4,384.5 288.6,385.9 288.9,398.3 289.1,380.6 289.4,388.8 289.6,393.9 289.9,393.5 290.1,395.0 290.4,391.9 290.6,398.4 290.9,387.6 290.9,386.0 291.1,390.6 291.4,394.2 291.6,390.3 291.9,391.7 292.1,386.6 292.4,384.9 292.6,392.6 292.9,398.2 293.1,393.8 293.4,388.0 293.6,386.6 293.9,382.8 294.1,390.6 294.4,392.8 294.6,393.4 294.9,384.4 295.1,387.8 295.4,386.8 295.6,387.4 295.9,388.2 296.1,388.2 296.4,391.2 296.6,390.2 296.9,389.6 297.1,385.1 297.4,387.8 297.6,386.0 297.9,378.4 298.1,387.7 298.2,382.4 298.4,386.5 298.6,383.6 298.9,383.8 299.1,385.8 299.4,386.2 299.6,384.4 299.9,378.5 300.1,389.8 300.4,378.8 300.6,381.3 300.9,384.0 301.1,384.4 301.4,383.7 301.6,383.8 301.9,389.3 302.1,381.1 302.4,388.4 302.6,376.0 302.9,378.4 303.1,376.6 303.4,376.0 303.6,377.0 303.8,380.9 303.9,375.3 304.1,376.5 304.4,380.6 304.6,381.4 304.9,385.8 305.1,382.2 305.4,378.9 305.6,377.9 305.9,379.2 306.1,377.8 306.4,373.9 306.6,377.9 306.9,376.4 307.1,375.2 307.4,374.1 307.6,381.3 307.9,376.9 308.1,377.2 308.4,371.6 308.6,370.5 308.9,372.2 309.1,374.9 309.4,372.8 309.6,373.1 309.9,380.7 310.1,374.6 310.4,370.1 310.6,372.0 310.6,371.5 310.9,373.6 311.1,369.6 311.4,371.1 311.6,374.1 311.9,371.3 312.1,368.5 312.4,368.8 312.6,372.2 312.9,374.3 313.1,375.5 313.4,372.2 313.6,369.2 313.9,378.2 314.1,374.6 314.4,375.9 314.6,376.1 314.9,371.6 315.1,373.4 315.4,375.1 315.6,377.4 315.9,374.3 316.1,364.3 316.4,372.3 316.6,373.7 316.9,376.0 317.1,374.7 317.4,384.3 317.5,377.4 317.6,377.6 317.9,377.4 318.1,370.3 318.4,378.6 318.6,377.8 318.9,373.8 319.1,379.6 319.4,376.4 319.6,373.1 319.9,373.6 320.1,374.2 320.4,375.6 320.6,373.7 320.9,375.9 321.1,369.5 321.4,373.1 321.6,370.1 321.9,375.2 322.1,379.4 322.4,377.7 322.6,377.0 322.9,376.9 323.1,379.8 323.4,367.0 323.6,377.2 323.9,366.2 324.1,370.1 324.4,375.1 324.4,372.1 324.6,375.8 324.9,378.8 325.1,373.6 325.4,376.8 325.6,376.1 325.9,370.3 326.1,375.0 326.4,373.0 326.6,379.1 326.9,372.3 327.1,385.0 327.4,374.0 327.6,381.2 327.9,376.5 328.1,376.5 328.4,377.1 328.6,376.6 328.9,378.9 329.1,379.9 329.4,373.6 329.6,371.0 329.9,366.2 330.1,372.1 330.4,377.8 330.6,372.7 330.9,371.6 331.2,370.6 331.3,369.8 331.4,371.0 331.7,372.6 331.9,367.6 332.2,374.4 332.4,367.9 332.7,370.9 332.9,369.1 333.2,368.4 333.4,361.5 333.7,363.2 333.9,366.1 334.2,362.8 334.4,372.4 334.7,363.5 334.9,360.6 335.2,362.7 335.4,360.9 335.4,357.4 335.7,364.0 335.9,364.0 336.2,356.0 336.4,358.6 336.7,353.1 336.9,354.1 337.2,353.4 337.4,352.7 337.7,352.1 337.9,346.2 338.1,349.9 338.2,345.4 338.4,345.8 338.7,345.9 338.9,340.8 339.2,336.2 339.4,340.6 339.7,330.1 339.9,331.2 340.2,327.7 340.4,333.6 340.7,325.5 340.9,318.9 340.9,326.9 341.2,327.9 341.4,324.4 341.7,313.9 341.9,312.7 342.2,310.4 342.4,308.0 342.7,302.8 342.9,298.0 343.1,298.4 343.2,297.3 343.4,289.9 343.7,285.8 343.9,282.0 344.2,277.9 344.4,276.0 344.5,275.3 344.7,276.1 344.9,276.9 345.2,277.8 345.4,284.8 345.7,288.5 345.9,293.4 346.2,294.1 346.4,297.8 346.4,300.1 346.7,305.0 346.9,307.2 347.2,313.3 347.4,314.8 347.7,323.0 347.9,319.7 348.0,326.5 348.2,328.4 348.4,330.7 348.7,328.4 348.9,335.0 349.2,341.1 349.4,341.7 349.7,340.9 349.9,346.9 350.2,350.1 350.4,351.1 350.5,346.7 350.7,350.7 350.9,351.0 351.2,351.1 351.4,352.2 351.7,358.0 351.9,356.3 352.2,370.9 352.4,362.3 352.7,361.8 352.9,360.6 353.2,375.7 353.4,363.9 353.5,365.9 353.7,365.6 353.9,369.4 354.2,370.1 354.4,373.8 354.7,366.2 354.9,370.5 355.2,374.5 355.4,368.4 355.7,371.1 355.9,368.9 356.2,364.3 356.4,373.4 356.7,377.5 356.9,372.6 357.2,370.3 357.4,377.7 357.4,378.4 357.7,381.9 357.9,381.2 358.2,376.0 358.4,378.1 358.7,370.5 358.9,379.6 359.2,377.7 359.4,381.3 359.7,382.9 359.9,379.2 360.2,380.1 360.4,377.5 360.7,373.7 360.9,378.2 361.2,378.3 361.4,374.2 361.7,382.1 361.9,377.6 362.2,380.6 362.4,377.2 362.7,373.4 362.9,381.2 363.2,381.1 363.4,377.9 363.7,377.6 363.9,379.3 364.2,380.0 364.3,379.0 364.4,374.5 364.7,382.9 364.9,376.5 365.2,379.6 365.4,380.3 365.7,381.2 365.9,375.7 366.2,383.5 366.4,382.1 366.7,383.2 366.9,385.2 367.2,380.0 367.4,372.7 367.7,384.0 367.9,387.0 368.2,386.3 368.4,381.7 368.7,383.8 368.9,384.6 369.2,377.6 369.4,381.1 369.7,379.8 369.9,385.9 370.2,378.3 370.4,385.2 370.7,380.2 370.9,376.1 371.2,388.2 371.4,380.0 371.7,386.1 371.9,389.9 372.2,383.4 372.4,381.1 372.5,390.7 372.7,382.7 372.9,378.6 373.2,378.8 373.4,381.0 373.7,384.6 373.9,381.3 374.2,383.8 374.4,385.7 374.7,383.6 374.9,384.9 375.2,384.9 375.4,376.6 375.7,384.9 375.9,382.8 376.2,381.9 376.4,377.8 376.7,371.7 376.9,378.0 377.2,381.9 377.4,376.7 377.7,378.6 377.9,376.8 378.2,383.1 378.4,379.1 378.7,380.5 378.9,384.6 379.2,379.8 379.4,385.5 379.7,379.2 379.9,384.3 380.2,384.2 380.4,384.7 380.7,382.3 380.9,381.9 381.2,383.5 381.4,382.7 381.7,387.4 381.9,386.7 382.2,374.8 382.4,383.8 382.7,378.6 382.9,383.3 383.2,381.4 383.4,378.5 383.7,386.7 383.9,385.3 384.2,378.8 384.4,376.0 384.7,377.6 384.9,377.5 385.2,380.8 385.4,385.5 385.7,387.2 385.9,381.8 386.2,386.7 386.3,389.7 386.4,380.2 386.7,376.4 386.9,386.6 387.2,382.7 387.4,386.6 387.7,383.7 387.9,382.6 388.2,386.4 388.4,378.2 388.7,382.7 388.9,381.3 389.2,387.6 389.4,384.0 389.7,372.5 389.9,385.1 390.2,379.7 390.4,385.2 390.7,380.9 390.9,384.9 391.2,386.6 391.4,383.4 391.7,379.3 391.9,391.7 392.2,382.1 392.4,381.9 392.7,384.3 392.9,381.5 393.2,388.8 393.4,383.1 393.7,383.1 393.9,382.7 394.2,374.8 394.4,377.1 394.7,383.3 394.9,385.0 395.2,386.4 395.4,383.8 395.7,378.5 395.9,383.2 396.2,384.6 396.4,386.8 396.7,384.5 396.9,375.5 397.2,386.3 397.4,379.4 397.7,382.0 397.9,375.4 398.2,382.9 398.4,377.3 398.7,382.5 398.9,391.7 399.2,384.2 399.4,377.1 399.7,378.9 399.9,380.4 400.2,384.0 400.4,383.1 400.7,383.4 400.9,384.2 401.2,387.4 401.4,386.7 401.7,389.1 401.9,383.0 402.2,383.0 402.4,375.3 402.7,376.2 402.9,379.5 403.2,378.1 403.4,381.5 403.7,384.9 403.9,380.4 404.2,379.7 404.4,379.7 404.7,382.8 404.9,381.7 405.0,384.6 405.2,385.8 405.4,385.9 405.7,387.0 405.9,384.4 406.2,384.6 406.4,391.7 406.7,383.0 406.9,384.2 407.2,380.6 407.4,380.2 407.7,379.1 407.9,376.3 408.2,383.0 408.4,382.2 408.7,379.6 408.9,385.6 409.2,380.6 409.4,384.9 409.7,382.4 409.9,384.8 410.2,380.7 410.4,383.4 410.7,389.7 410.9,384.7 411.2,385.4 411.4,382.8 411.7,385.0 411.9,380.1 412.2,380.8 412.4,384.6 412.7,386.3 412.9,382.1 413.2,382.8 413.4,382.1 413.7,382.7 413.9,378.5 414.2,378.2 414.4,381.9 414.7,376.8 414.9,377.2 415.2,377.8 415.4,376.4 415.7,379.4 415.9,377.0 416.2,379.4 416.4,378.0 416.7,378.4 416.9,382.1 417.2,381.7 417.4,379.0 417.7,380.4 417.9,379.1 418.2,381.2 418.4,385.1 418.7,379.1 418.9,381.1 419.2,381.6 419.4,377.8 419.7,375.4 419.9,381.5 420.0,380.9 420.2,381.0 420.4,381.7 420.7,381.3 420.9,378.1 421.2,381.2 421.4,374.2 421.7,378.3 421.9,374.6 422.2,376.7 422.4,383.3 422.7,381.0 422.9,381.7 423.2,384.7 423.4,382.7 423.7,381.0 423.9,382.0 424.2,387.5 424.4,383.8 424.7,384.6 424.9,378.1 425.2,383.5 425.4,378.5 425.7,385.9 426.0,382.7 426.2,392.4 426.5,379.9 426.7,387.8 427.0,386.0 427.2,374.6 427.5,380.6 427.7,387.2 428.0,386.5 428.2,377.8 428.5,382.3 428.7,377.2 429.0,382.8 429.0,381.3 429.2,391.0 429.5,386.5 429.7,384.9 430.0,383.8 430.2,387.8 430.5,388.9 430.7,381.1 431.0,392.6 431.2,384.9 431.5,386.8 431.7,388.5 432.0,392.9 432.2,386.2 432.5,388.4 432.7,395.3 433.0,391.3 433.2,392.9 433.5,391.8 433.7,389.2 434.0,390.1 434.2,390.7 434.5,386.5 434.7,390.9 435.0,376.4 435.2,378.8 435.5,389.0 435.7,386.8 436.0,384.8 436.2,387.5 436.5,389.6 436.7,382.6 437.0,388.9 437.2,385.8 437.5,386.6 437.7,385.8 438.0,393.3 438.2,377.5 438.5,384.2 438.7,387.0 439.0,381.7 439.2,380.3 439.5,389.1 439.7,385.1 440.0,385.4 440.2,386.8 440.5,383.9 440.7,396.0 441.0,384.0 441.0,385.5 441.2,382.0 441.5,385.6 441.7,390.6 442.0,386.2 442.2,386.4 442.5,383.6 442.7,390.3 443.0,385.0 443.2,382.2 443.5,389.2 443.7,385.2 444.0,388.9 444.2,388.0 444.5,388.2 444.7,386.3 445.0,385.0 445.2,382.2 445.5,389.9 445.7,385.9 446.0,388.1 446.2,385.2 446.5,380.6 446.7,383.0 447.0,390.6 447.2,384.0 447.5,384.9 447.7,381.9 448.0,384.6 448.2,385.2 448.5,386.0 448.7,386.7 449.0,385.3 449.2,385.3 449.5,386.7 449.7,389.3 450.0,386.7 450.0,391.7 450.2,387.1 450.5,388.1 450.7,384.3 451.0,389.3 451.2,378.4 451.5,380.6 451.7,381.8 452.0,388.3 452.2,381.6 452.5,393.1 452.7,383.9 453.0,379.0 453.2,382.9 453.5,395.3 453.7,381.3 454.0,376.6 454.2,386.4 454.5,389.6 454.7,389.1 455.0,386.5 455.2,387.9 455.5,389.5 455.7,390.8 456.0,393.8 456.2,386.0 456.5,390.4 456.7,385.8 457.0,389.1 457.2,384.0 457.5,383.7 457.7,387.1 458.0,383.1 458.2,387.4 458.5,383.2 458.7,386.7 459.0,386.3 459.2,385.8 459.5,387.3 459.7,390.2 460.0,394.2 460.2,381.4 460.5,385.9 460.7,384.7 461.0,382.6 461.2,386.7 461.5,383.2 461.7,385.8 462.0,390.0 462.2,375.5 462.5,387.2 462.7,387.4 463.0,383.5 463.2,387.6 463.5,387.8 463.7,385.3 464.0,390.1 464.2,381.2 464.5,387.5 464.7,384.4 465.0,381.8 465.0,384.7 465.2,384.8 465.5,387.5 465.7,379.7 466.0,383.9 466.2,383.0 466.5,389.9 466.7,383.3 467.0,390.9 467.2,382.5 467.5,389.0 467.7,386.8 468.0,386.9 468.2,381.8 468.5,378.1 468.7,379.4 469.0,388.0 469.2,385.5 469.5,383.7 469.7,389.1 470.0,384.0 470.2,383.8 470.5,382.7 470.7,389.8 471.0,392.8 471.2,383.4 471.5,388.3 471.7,388.9 472.0,391.7 472.2,378.1 472.5,386.2 472.7,387.2 473.0,381.0 473.2,387.4 473.5,385.3 473.7,386.2 474.0,380.0 474.2,386.2 474.5,382.6 474.7,386.6 475.0,385.8 475.2,381.9 475.5,380.0 475.7,388.7 476.0,386.7 476.2,388.7 476.5,378.9 476.7,383.0 477.0,389.7 477.2,387.7 477.5,383.6 477.7,386.4 478.0,385.8 478.2,384.8 478.5,381.4 478.7,388.2 479.0,385.6 479.2,382.9 479.5,378.3 479.7,381.0 480.0,382.4 480.2,385.4 480.5,382.1 480.7,387.4 481.0,384.2 481.2,381.3 481.5,375.7 481.7,381.4 482.0,380.2 482.2,385.1 482.5,387.2 482.7,390.7 483.0,387.1 483.2,384.8 483.5,395.1 483.7,389.7 484.0,387.6 484.2,385.9 484.5,381.8 484.7,390.7 485.0,385.9 485.2,390.1 485.5,388.8 485.7,388.6 486.0,389.2 486.2,385.9 486.5,385.4 486.7,386.9 487.0,383.5 487.2,385.5 487.5,385.3 487.7,386.9 488.0,385.1 488.2,378.5 488.5,385.3 488.7,390.4 489.0,381.6 489.2,382.1 489.5,388.1 489.7,383.5 490.0,384.9 490.0,385.8 490.2,381.5 490.5,385.4 490.7,385.3 491.0,375.9 491.2,384.5 491.5,387.4 491.7,383.8 492.0,385.6 492.2,389.1 492.5,383.2 492.7,386.6 493.0,385.5 493.2,382.0 493.5,386.9 493.7,389.2 494.0,389.5 494.2,384.6 494.5,389.1 494.7,389.8 495.0,386.9 495.2,388.4 495.5,388.3 495.7,383.3 496.0,384.7 496.2,380.7 496.5,385.5 496.7,382.3 497.0,382.5 497.2,385.3 497.5,385.0 497.7,386.7 498.0,387.5 498.2,381.7 498.5,382.4 498.7,386.1 499.0,385.9 499.2,384.5 499.5,392.0 499.7,387.0 500.0,383.8 500.2,386.1 500.5,387.5 500.7,384.4 501.0,378.6 501.2,385.5 501.5,385.5 501.7,392.7 502.0,375.9 502.2,392.0 502.5,386.0 502.7,389.6 503.0,385.5 503.2,386.4 503.5,388.7 503.7,385.2 504.0,388.2 504.2,384.2 504.5,381.8 504.7,384.0 505.0,384.9 505.2,385.2 505.5,389.9 505.7,383.3 506.0,381.1 506.2,385.7 506.5,390.6 506.7,388.6 507.0,389.2 507.2,390.0 507.5,384.1 507.7,386.5 508.0,377.4 508.2,382.8 508.5,386.1 508.7,379.5 509.0,379.4 509.2,382.9 509.5,387.6 509.7,394.1 510.0,393.2 510.2,389.6 510.5,379.7 510.7,375.9 511.0,385.4 511.2,389.3 511.5,380.4 511.7,384.6 512.0,384.2 512.2,386.1 512.5,384.6 512.7,387.0 513.0,387.9 513.2,385.1 513.5,386.3 513.7,389.9 514.0,378.1 514.2,381.5 514.5,386.7 514.7,391.5 515.0,386.2 515.2,387.2 515.5,383.8 515.7,390.0 516.0,381.0 516.2,385.4 516.5,385.9 516.7,385.5 517.0,389.0 517.2,389.0 517.5,384.1 517.7,389.5 518.0,381.4 518.2,389.8 518.5,394.6 518.7,388.0 519.0,387.1 519.2,386.2 519.5,389.7 519.7,385.7 520.0,389.1 520.2,385.6 520.5,385.7"/>
<rect x="267.9" y="21.5" width="236.9" height="150.5" fill="none" stroke="#707070" stroke-width="1.4"/>
<line x1="301.66" y1="172" x2="301.66" y2="175.5" stroke="#555" stroke-width="1"/>
<line x1="369.37" y1="172" x2="369.37" y2="175.5" stroke="#555" stroke-width="1"/>
<line x1="437.09" y1="172" x2="437.09" y2="175.5" stroke="#555" stroke-width="1"/>
<line x1="504.80" y1="172" x2="504.80" y2="175.5" stroke="#555" stroke-width="1"/>
<line x1="335.51" y1="172" x2="335.51" y2="173.8" stroke="#555" stroke-width="1"/>
<line x1="403.23" y1="172" x2="403.23" y2="173.8" stroke="#555" stroke-width="1"/>
<line x1="470.94" y1="172" x2="470.94" y2="173.8" stroke="#555" stroke-width="1"/>
<text transform="translate(285.12,190.75) scale(1.0100,1.0140)" font-size="16" font-weight="bold">1000</text>
<text transform="translate(353.09,190.75) scale(1.0100,1.0140)" font-size="16" font-weight="bold">2000</text>
<text transform="translate(420.93,190.75) scale(1.0100,1.0140)" font-size="16" font-weight="bold">3000</text>
<text transform="translate(488.77,190.75) scale(1.0100,1.0140)" font-size="16" font-weight="bold">4000</text>
<text transform="translate(309.74,214.45) scale(1.0308,1.0141)" font-size="17" font-weight="bold">Raman shift (cm<tspan font-size="11" dy="-7">-1</tspan><tspan dy="7">)</tspan></text>
<text transform="translate(254.84,145.95) rotate(-90) scale(1.0129,0.9034)" font-size="16" font-weight="bold">intensity (a.u.)</text>
<text transform="translate(471.87,44.15) scale(0.9760,0.9860)" font-size="16" font-weight="normal">3 PI</text>
<line x1="428" y1="39" x2="464.4" y2="39" stroke="#4cbb4c" stroke-width="1.5"/>
<polyline fill="none" stroke="#18a42a" stroke-width="1.2" stroke-linejoin="round" points="268.4,167.9 268.7,166.4 269.1,166.6 269.4,165.5 269.7,164.7 270.0,163.9 270.1,163.3 270.4,162.2 270.7,160.0 271.1,159.0 271.3,157.1 271.4,156.4 271.7,154.6 272.1,153.0 272.3,152.5 272.4,153.0 272.7,157.2 273.1,162.7 273.4,166.8 273.5,166.8 273.7,166.1 274.1,164.0 274.4,161.0 274.7,159.1 274.8,159.2 275.1,160.1 275.4,162.2 275.7,162.9 275.8,162.9 276.1,162.8 276.4,161.4 276.7,160.8 276.8,161.1 277.1,161.3 277.4,161.8 277.8,162.9 278.1,163.0 278.4,164.8 278.8,164.8 278.9,164.7 279.1,165.0 279.4,164.3 279.8,162.7 280.1,161.2 280.4,160.2 280.5,160.0 280.8,159.6 281.1,158.4 281.4,157.3 281.8,157.0 281.9,156.6 282.1,156.8 282.4,158.1 282.5,158.1 282.8,157.1 283.1,155.6 283.1,155.9 283.4,155.6 283.8,157.4 284.1,158.7 284.4,159.4 284.5,160.0 284.8,160.6 285.1,162.2 285.4,162.6 285.8,163.7 286.1,164.5 286.1,164.6 286.4,163.7 286.8,164.0 287.1,163.9 287.4,163.4 287.8,163.6 288.0,162.7 288.1,163.0 288.4,162.0 288.8,161.7 289.1,160.3 289.4,159.3 289.8,158.0 290.0,158.4 290.1,158.0 290.4,157.4 290.8,156.9 291.1,156.4 291.2,156.1 291.4,156.3 291.8,157.2 292.1,158.9 292.4,159.5 292.5,159.9 292.8,161.0 293.1,162.7 293.4,164.2 293.8,164.8 293.8,164.7 294.1,165.6 294.5,166.4 294.8,166.8 295.1,167.0 295.5,167.1 295.8,167.5 296.0,167.4 296.1,167.7 296.5,167.4 296.8,167.8 297.1,167.8 297.5,168.0 297.8,168.0 298.1,168.6 298.5,168.4 298.8,168.4 298.8,167.5 299.1,167.9 299.5,167.8 299.8,168.0 300.1,167.2 300.5,168.0 300.8,167.8 301.0,167.2 301.1,167.2 301.5,167.1 301.8,167.1 302.1,167.0 302.5,167.1 302.8,166.3 303.1,166.3 303.5,165.9 303.8,166.1 303.9,165.8 304.1,165.8 304.5,165.1 304.8,165.2 305.1,165.0 305.5,165.4 305.5,165.1 305.8,164.7 306.1,164.4 306.5,164.2 306.8,163.5 307.1,162.8 307.3,162.7 307.5,162.3 307.8,159.4 308.1,156.0 308.5,152.1 308.5,151.9 308.8,147.0 309.1,139.9 309.5,133.8 309.8,131.3 309.8,131.3 310.1,137.1 310.5,147.1 310.6,150.0 310.8,155.1 311.2,160.7 311.2,160.8 311.5,160.2 311.8,158.5 312.2,156.8 312.3,155.9 312.5,155.3 312.8,154.1 313.2,153.4 313.2,153.6 313.5,154.1 313.8,157.9 314.2,160.7 314.4,161.7 314.5,161.9 314.8,161.5 315.2,160.7 315.5,159.7 315.8,159.5 316.0,158.9 316.2,159.0 316.5,159.2 316.8,159.0 317.2,159.7 317.5,159.5 317.8,159.8 318.0,159.3 318.2,159.0 318.5,157.8 318.8,156.0 319.2,153.9 319.5,153.4 319.5,153.3 319.8,154.0 320.2,154.1 320.5,155.3 320.8,155.4 321.0,155.4 321.2,155.4 321.5,154.7 321.8,154.2 322.2,153.3 322.5,151.8 322.8,150.5 323.2,149.4 323.2,149.0 323.5,147.8 323.8,146.4 324.2,144.6 324.5,143.1 324.7,141.2 324.8,140.1 325.2,134.2 325.4,129.8 325.5,127.0 325.8,117.4 326.1,108.9 326.2,105.7 326.5,89.5 326.8,72.4 326.9,70.0 327.2,57.0 327.5,42.9 327.6,40.0 327.9,30.7 328.1,25.9 328.2,26.4 328.5,36.5 328.6,40.1 328.9,69.1 329.1,100.0 329.2,105.2 329.5,119.3 329.6,122.3 329.9,130.7 330.1,136.8 330.2,138.6 330.5,143.7 330.9,147.6 331.0,148.7 331.2,150.7 331.5,153.2 331.9,154.9 332.1,156.2 332.2,156.7 332.5,157.9 332.9,159.7 333.2,160.3 333.5,160.4 333.6,160.5 333.9,160.4 334.2,160.0 334.5,158.0 334.6,157.8 334.9,156.5 335.2,153.9 335.5,151.7 335.8,148.8 335.9,148.5 336.2,144.8 336.5,143.2 336.5,142.7 336.9,145.2 337.2,147.9 337.3,148.9 337.5,152.0 337.9,156.9 338.0,157.9 338.2,158.2 338.5,158.4 338.9,158.6 339.2,158.6 339.5,158.5 339.5,158.6 339.9,157.7 340.2,155.6 340.5,152.7 340.9,149.1 341.0,147.4 341.2,143.2 341.5,133.6 341.7,129.8 341.9,125.4 342.2,117.2 342.5,110.4 342.9,107.5 342.9,107.4 343.2,109.7 343.5,115.6 343.9,121.8 343.9,122.3 344.2,128.5 344.6,135.5 344.7,138.5 344.9,141.9 345.2,148.2 345.4,150.7 345.6,151.4 345.9,154.1 346.2,155.5 346.6,157.1 346.9,157.8 346.9,157.3 347.2,158.3 347.6,159.1 347.9,159.2 348.2,159.6 348.6,160.3 348.9,160.4 349.1,160.3 349.2,160.6 349.6,161.3 349.9,161.1 350.2,161.7 350.6,161.9 350.6,161.5 350.9,161.2 351.2,161.1 351.6,161.3 351.9,161.2 352.2,160.9 352.4,160.8 352.6,160.4 352.9,159.8 353.2,158.4 353.6,156.5 353.6,156.1 353.9,148.5 354.2,132.8 354.3,129.5 354.6,111.0 354.8,95.1 354.9,88.5 355.2,75.8 355.2,76.1 355.6,92.3 355.7,100.1 355.9,112.2 356.2,129.5 356.2,131.8 356.6,149.2 356.8,155.9 356.9,157.8 357.2,161.2 357.6,164.0 357.9,164.9 358.0,165.0 358.2,165.8 358.6,165.7 358.9,166.2 359.2,166.7 359.6,166.6 359.9,166.7 360.2,166.7 360.2,166.9 360.6,166.5 360.9,166.8 361.3,166.8 361.6,167.2 361.9,166.5 362.3,166.3 362.6,166.7 362.9,166.4 363.3,166.5 363.6,166.4 363.9,166.6 364.3,166.1 364.6,166.2 364.9,165.6 365.0,166.0 365.3,166.5 365.6,165.9 365.9,165.9 366.3,165.6 366.6,166.0 366.9,165.8 367.3,165.4 367.6,165.8 367.9,165.6 368.3,165.6 368.6,165.2 368.9,165.7 369.3,165.3 369.6,165.1 369.9,164.9 370.3,165.0 370.6,165.2 370.9,164.9 370.9,165.3 371.3,165.2 371.6,165.4 371.9,165.4 372.3,165.3 372.6,165.0 372.9,165.7 373.3,166.0 373.6,166.0 373.9,166.2 374.3,166.1 374.6,166.2 374.9,166.1 375.0,166.6 375.3,166.3 375.6,166.1 375.9,165.8 376.3,166.0 376.6,166.3 376.9,165.9 377.3,165.5 377.6,165.9 378.0,165.7 378.3,165.5 378.6,165.4 379.0,165.5 379.0,165.3 379.3,165.4 379.6,165.0 380.0,165.7 380.3,165.4 380.6,165.9 381.0,165.0 381.3,165.8 381.6,165.9 382.0,165.7 382.3,166.0 382.6,166.2 383.0,166.2 383.3,166.0 383.6,166.2 384.0,166.6 384.3,166.7 384.6,166.4 385.0,166.4 385.0,166.5 385.3,166.7 385.6,166.1 386.0,166.1 386.3,166.4 386.6,166.1 387.0,166.2 387.3,166.4 387.6,166.5 388.0,166.0 388.3,166.5 388.6,165.8 389.0,166.4 389.3,165.8 389.6,165.9 390.0,166.4 390.3,166.1 390.6,166.0 391.0,166.0 391.3,166.2 391.6,166.1 392.0,166.1 392.3,166.3 392.6,165.9 393.0,165.9 393.3,165.9 393.6,166.3 394.0,166.3 394.3,166.3 394.6,166.0 395.0,166.0 395.0,166.2 395.3,165.9 395.7,166.2 396.0,166.2 396.3,165.8 396.7,166.0 397.0,166.0 397.3,166.5 397.7,166.7 398.0,166.1 398.3,166.1 398.7,165.6 399.0,166.2 399.3,166.2 399.7,166.0 400.0,166.4 400.3,165.9 400.7,166.2 401.0,166.4 401.3,166.0 401.7,166.6 402.0,166.7 402.3,166.1 402.7,166.1 403.0,166.6 403.3,166.5 403.7,166.2 404.0,166.4 404.3,166.5 404.7,166.5 405.0,166.7 405.0,166.6 405.3,166.9 405.7,166.8 406.0,166.7 406.3,166.8 406.7,166.8 407.0,166.6 407.3,166.1 407.7,166.7 408.0,166.4 408.3,166.8 408.7,166.4 409.0,166.5 409.3,166.4 409.7,166.7 410.0,166.3 410.3,166.2 410.7,166.3 411.0,166.1 411.3,166.2 411.7,166.2 412.0,166.2 412.4,166.6 412.7,166.0 413.0,166.0 413.4,165.9 413.7,166.1 414.0,165.6 414.4,165.7 414.7,165.8 415.0,165.9 415.0,165.8 415.4,165.6 415.7,165.5 416.0,165.7 416.4,165.8 416.7,165.4 417.0,165.3 417.4,165.2 417.7,164.8 418.0,164.8 418.4,164.7 418.7,164.8 419.0,164.6 419.4,164.2 419.7,164.8 420.0,164.9 420.0,164.4 420.4,164.6 420.7,164.7 421.0,164.9 421.4,164.4 421.7,165.3 422.0,165.0 422.4,165.6 422.7,165.4 423.0,165.5 423.4,165.7 423.7,166.1 424.0,165.8 424.4,166.0 424.7,166.0 425.0,165.8 425.0,166.5 425.4,166.4 425.7,166.2 426.0,166.6 426.4,166.1 426.7,166.3 427.0,166.8 427.4,166.6 427.7,165.8 428.0,165.6 428.4,166.2 428.7,166.7 429.1,166.3 429.4,166.4 429.7,166.6 430.1,166.3 430.4,166.6 430.7,166.7 431.1,166.7 431.4,166.6 431.7,166.4 432.1,166.7 432.4,166.5 432.7,166.9 433.1,167.2 433.4,166.4 433.7,166.0 434.1,166.5 434.4,166.7 434.7,166.9 435.0,166.9 435.1,166.4 435.4,166.4 435.7,166.9 436.1,166.3 436.4,166.8 436.7,166.4 437.1,166.6 437.4,166.6 437.7,166.5 438.1,166.4 438.4,165.9 438.7,166.1 439.1,165.9 439.4,165.8 439.7,165.8 440.0,165.5 440.1,165.3 440.4,164.6 440.7,163.4 441.1,162.0 441.4,160.3 441.5,160.1 441.7,158.9 442.1,156.9 442.4,155.5 442.6,155.3 442.7,155.5 443.1,156.7 443.4,159.0 443.6,160.2 443.7,160.9 444.1,163.4 444.4,165.6 444.5,165.7 444.7,165.9 445.1,166.7 445.4,167.3 445.8,167.7 446.1,167.6 446.4,168.4 446.7,168.2 446.8,168.3 447.1,168.2 447.4,168.4 447.8,167.9 448.1,167.6 448.4,167.7 448.8,167.7 449.1,167.0 449.4,167.2 449.8,166.7 450.0,166.4 450.1,166.8 450.4,166.0 450.8,166.3 451.1,165.6 451.4,165.6 451.8,164.9 452.1,164.8 452.4,165.0 452.8,164.6 453.1,164.4 453.4,164.2 453.8,164.3 454.0,163.9 454.1,163.9 454.4,164.2 454.8,164.1 455.1,164.2 455.4,164.5 455.8,164.6 456.1,164.7 456.4,165.3 456.8,165.3 457.1,165.5 457.4,165.4 457.8,165.4 458.1,165.4 458.4,165.8 458.8,165.5 459.1,166.1 459.4,166.5 459.8,166.8 460.0,166.7 460.1,166.3 460.4,166.7 460.8,166.5 461.1,167.0 461.4,166.8 461.8,167.1 462.1,167.6 462.5,167.3 462.8,167.7 463.1,167.3 463.5,167.2 463.8,167.7 464.1,167.9 464.5,167.4 464.8,167.6 465.1,167.3 465.5,167.6 465.8,168.0 466.1,167.8 466.5,167.7 466.8,167.5 467.1,168.0 467.5,168.1 467.8,168.1 468.1,168.0 468.5,167.7 468.8,168.4 469.0,168.0 469.1,168.0 469.5,168.2 469.8,167.4 470.1,167.9 470.5,167.9 470.8,168.0 471.1,168.2 471.5,167.9 471.8,167.3 472.1,167.6 472.5,167.7 472.8,167.6 473.1,167.2 473.5,167.1 473.8,167.5 474.1,167.4 474.5,167.3 474.8,166.8 475.1,167.6 475.5,166.3 475.8,166.9 476.1,167.4 476.5,166.8 476.8,166.8 477.1,166.4 477.5,167.0 477.8,166.3 478.1,166.6 478.5,166.5 478.8,166.2 479.2,166.6 479.5,166.0 479.8,166.1 480.0,166.3 480.2,166.2 480.5,166.4 480.8,166.5 481.2,166.1 481.5,166.1 481.8,166.0 482.2,166.0 482.5,166.3 482.8,166.0 483.2,166.2 483.5,166.0 483.8,165.8 484.2,166.2 484.5,165.7 484.8,166.0 485.2,166.3 485.5,165.7 485.8,165.9 486.2,165.5 486.5,165.8 486.8,165.5 487.2,165.8 487.5,165.7 487.8,165.9 488.2,166.2 488.5,165.9 488.8,166.0 489.2,165.8 489.5,165.7 489.8,165.6 490.0,165.3 490.2,165.8 490.5,166.2 490.8,165.9 491.2,165.7 491.5,166.2 491.8,165.7 492.2,165.7 492.5,165.6 492.8,165.7 493.2,165.8 493.5,166.4 493.8,165.9 494.2,165.7 494.5,165.8 494.8,165.9 495.2,165.6 495.5,166.0 495.9,166.2 496.0,166.1 496.2,166.1 496.5,165.6 496.9,165.4 497.2,166.1 497.5,165.9 497.9,165.1 498.2,165.3 498.5,165.1 498.9,165.1 499.2,164.9 499.5,164.6 499.9,164.7 500.2,164.6 500.3,164.6 500.5,164.2 500.9,164.0 501.2,164.8 501.5,164.9 501.9,165.7 502.2,166.1 502.5,166.3 502.9,166.4 503.0,166.6 503.2,167.0 503.5,166.7 503.9,167.3 504.2,167.4"/>
</svg>
</body></html>
